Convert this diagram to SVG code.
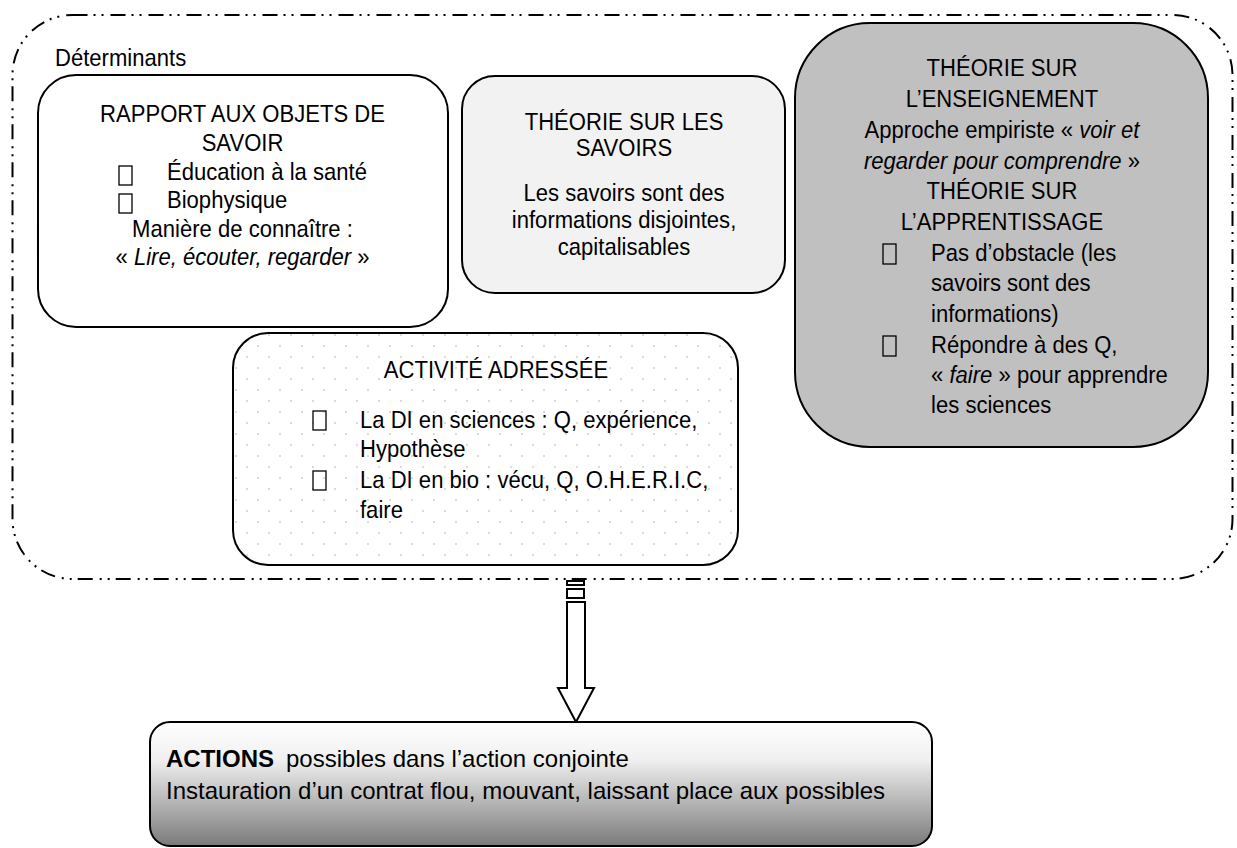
<svg xmlns="http://www.w3.org/2000/svg" width="1237" height="848" viewBox="0 0 1237 848">
<defs>
<pattern id="dots" x="0" y="0" width="22" height="22" patternUnits="userSpaceOnUse">
<circle cx="5" cy="5" r="1" fill="#cfcfcf"/>
<circle cx="16" cy="16" r="1" fill="#cfcfcf"/>
</pattern>
<linearGradient id="grad" x1="0" y1="0" x2="0" y2="1">
<stop offset="0" stop-color="#ffffff"/>
<stop offset="0.3" stop-color="#f0f0f0"/>
<stop offset="1" stop-color="#7a7a7a"/>
</linearGradient>
</defs>
<style>
text{font-family:"Liberation Sans",Arial,sans-serif;font-size:24px;fill:#000}
.c{text-anchor:middle}
.i{font-style:italic}
.b{font-weight:bold}
.box{stroke:#000;stroke-width:2}
.bul{fill:none;stroke:#000;stroke-width:1.3}
.outer{fill:none;stroke:#000;stroke-width:2;stroke-dasharray:15 6 2 6 2 7}
</style>
<rect class="outer" x="12.5" y="15" width="1220" height="564" rx="60" ry="60"/>
<g transform="scale(0.92,1)">
<text x="59.8" y="66">Déterminants</text>
</g>
<g id="rapport">
<rect class="box" x="38" y="75" width="410" height="252" rx="38" fill="#fff"/>
<rect class="bul" x="119" y="166" width="13" height="19"/>
<rect class="bul" x="119" y="194" width="13" height="19"/>
<g transform="scale(0.92,1)">
<text class="c" x="263.6" y="122">RAPPORT AUX OBJETS DE</text>
<text class="c" x="263.6" y="151">SAVOIR</text>
<text x="181.5" y="180">Éducation à la santé</text>
<text x="181.5" y="208">Biophysique</text>
<text class="c" x="263.6" y="237">Manière de connaître :</text>
<text class="c" x="263.6" y="265">« <tspan class="i">Lire, écouter, regarder</tspan> »</text>
</g>
</g>
<g id="savoirs">
<rect class="box" x="462" y="76" width="323" height="217" rx="33" fill="#f2f2f2"/>
<g transform="scale(0.92,1)">
<text class="c" x="678.3" y="130">THÉORIE SUR LES</text>
<text class="c" x="678.3" y="156">SAVOIRS</text>
<text class="c" x="678.3" y="201">Les savoirs sont des</text>
<text class="c" x="678.3" y="228">informations disjointes,</text>
<text class="c" x="678.3" y="255">capitalisables</text>
</g>
</g>
<g id="theorie">
<rect class="box" x="795" y="23" width="413" height="424" rx="75" fill="#c0c0c0"/>
<rect class="bul" x="883" y="244" width="13" height="20"/>
<rect class="bul" x="883" y="336" width="13" height="20"/>
<g transform="scale(0.92,1)">
<text class="c" x="1089.1" y="76">THÉORIE SUR</text>
<text class="c" x="1089.1" y="107">L’ENSEIGNEMENT</text>
<text class="c" x="1089.1" y="138">Approche empiriste « <tspan class="i">voir et</tspan></text>
<text class="c" x="1089.1" y="169"><tspan class="i">regarder pour comprendre</tspan> »</text>
<text class="c" x="1089.1" y="199">THÉORIE SUR</text>
<text class="c" x="1089.1" y="230">L’APPRENTISSAGE</text>
<text x="1012" y="261">Pas d’obstacle (les</text>
<text x="1012" y="291">savoirs sont des</text>
<text x="1012" y="322">informations)</text>
<text x="1012" y="353">Répondre à des Q,</text>
<text x="1012" y="383">« <tspan class="i">faire</tspan> » pour apprendre</text>
<text x="1012" y="413">les sciences</text>
</g>
</g>
<g id="activite">
<rect class="box" x="233" y="333" width="505" height="232" rx="35" fill="#fff"/>
<rect x="234" y="334" width="503" height="230" rx="34" fill="url(#dots)"/>
<rect class="bul" x="313" y="411" width="13" height="19"/>
<rect class="bul" x="313" y="471" width="13" height="19"/>
<g transform="scale(0.92,1)">
<text class="c" x="539.1" y="378">ACTIVITÉ ADRESSÉE</text>
<text x="391.3" y="428">La DI en sciences : Q, expérience,</text>
<text x="391.3" y="457">Hypothèse</text>
<text x="391.3" y="488">La DI en bio : vécu, Q, O.H.E.R.I.C,</text>
<text x="391.3" y="518">faire</text>
</g>
</g>
<g id="connectors" fill="#fff" stroke="#000" stroke-width="2">
<rect x="567" y="581" width="17" height="4"/>
<rect x="567" y="589" width="17" height="9"/>
<path d="M567 602 H585 V688 H594 L576 722 L558 688 H567 Z"/>
</g>
<g id="actions">
<rect class="box" x="150" y="722" width="782" height="124" rx="20" fill="url(#grad)"/>
<text x="166" y="767"><tspan class="b">ACTIONS</tspan><tspan dx="12">possibles dans l’action conjointe</tspan></text>
<text x="166" y="799">Instauration d’un contrat flou, mouvant, laissant place aux possibles</text>
</g>
</svg>
